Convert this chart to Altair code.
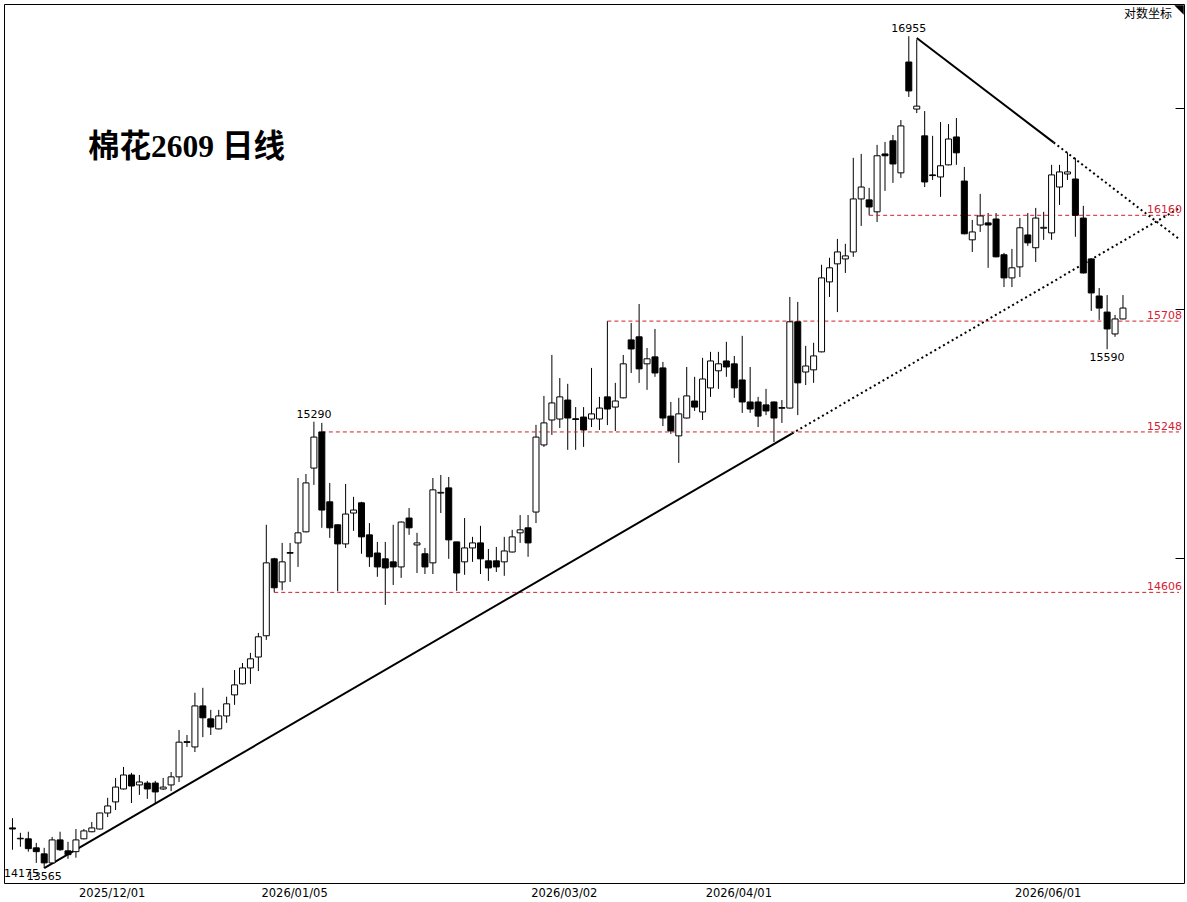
import altair as alt
import pandas as pd

# ---------------- data ----------------
opens = [13712,13672,13672,13639,13617,13584,13668,13628,13625,13672,
13698,13708,13767,13808,13856,13908,13871,13878,13878,13856,
13871,13901,14030,14013,14168,14119,14081,14130,14210,14252,
14313,14355,14437,14738,14647,14760,14801,14845,15101,15248,
14965,14873,14797,14920,14961,14833,14761,14738,14726,14706,
14900,14793,14758,14722,15000,15021,14805,14726,14781,14801,
14730,14730,14726,14765,14841,14861,14924,15195,15297,15301,
15379,15302,15309,15301,15301,15392,15350,15388,15629,15642,
15529,15558,15512,15313,15232,15305,15375,15330,15429,15500,
15541,15529,15462,15371,15371,15359,15371,15345,15346,15705,
15495,15504,15579,15874,15951,15972,16002,16231,16227,16175,
16428,16486,16345,16838,16627,16508,16336,16327,16380,16503,
16309,16054,16118,16127,16144,15990,15891,15938,16075,16020,
16104,16084,16283,16340,16318,16148,15972,15814,15746,15654,
15717]

closes = [13708,13674,13636,13625,13584,13668,13632,13614,13668,13701,
13712,13767,13793,13863,13908,13867,13882,13856,13845,13863,
13901,14031,14033,14168,14123,14088,14130,14176,14248,14313,
14348,14433,14722,14624,14726,14763,14841,15041,15227,14932,
14861,14797,14916,14932,14825,14746,14706,14702,14706,14884,
14861,14801,14706,15013,15003,14813,14682,14781,14801,14738,
14702,14706,14769,14825,14853,14801,15227,15285,15367,15392,
15305,15299,15256,15322,15346,15342,15375,15529,15591,15508,
15550,15491,15305,15252,15322,15396,15350,15466,15541,15529,
15516,15429,15371,15342,15313,15334,15305,15348,15705,15450,
15520,15562,15891,15934,16002,15985,16231,16283,16196,16420,
16420,16384,16552,16708,16640,16305,16333,16376,16494,16433,
16080,16088,16157,16118,15981,15891,15934,16106,16041,16148,
16108,16336,16349,16349,16160,15912,15827,15763,15675,15717,
15763]

highs = [13748,13694,13698,13657,13639,13679,13698,13661,13708,13708,
13734,13768,13823,13897,13938,13916,13908,13886,13886,13897,
13919,14077,14058,14218,14237,14153,14153,14203,14305,14332,
14371,14448,14873,14742,14801,14801,15061,15077,15290,15285,
15041,14875,15037,14985,14965,14880,14805,14805,14873,14886,
14940,14841,14781,15061,15073,15065,14805,14900,14825,14869,
14777,14785,14825,14853,14912,14912,15277,15396,15566,15470,
15446,15350,15350,15512,15392,15708,15450,15566,15700,15780,
15595,15675,15537,15371,15388,15516,15475,15554,15579,15579,
15621,15562,15646,15516,15392,15425,15373,15379,15810,15789,
15604,15617,15947,15977,16058,16037,16411,16428,16279,16468,
16481,16512,16578,16955,16940,16618,16508,16569,16560,16587,
16371,16140,16253,16170,16170,15998,16015,16148,16170,16192,
16175,16380,16380,16435,16411,16201,15974,15848,15818,15734,
15818]

lows = [13632,13643,13625,13584,13565,13580,13628,13599,13603,13670,
13696,13706,13752,13778,13854,13804,13834,13819,13804,13852,
13848,13882,14013,13994,14050,14058,14079,14104,14172,14250,
14252,14301,14421,14606,14614,14647,14706,14843,15033,14861,
14821,14610,14781,14849,14758,14706,14667,14557,14635,14663,
14833,14682,14678,14678,14920,14738,14612,14675,14726,14678,
14651,14686,14671,14763,14801,14746,14880,15187,15236,15264,
15175,15175,15187,15268,15256,15276,15252,15386,15491,15450,
15421,15475,15272,15240,15122,15303,15334,15297,15392,15425,
15475,15388,15326,15326,15268,15317,15207,15285,15344,15317,
15441,15450,15577,15810,15746,15912,15981,16114,16160,16131,
16266,16301,16323,16681,16609,16283,16314,16240,16378,16380,
16078,16002,16088,15934,15979,15852,15852,15895,16028,15959,
16054,16054,16205,16314,16067,15910,15751,15713,15590,15642,
15715]

bar_index = list(range(1, len(opens) + 1))

date_index = [13, 36, 70, 92, 131]
date_labels = ["2025/12/01", "2026/01/05", "2026/03/02", "2026/04/01", "2026/06/01"]

level_prices = [16160, 15708, 15248, 14606]
level_start = [109, 76, 40, 34]
level_texts = ["16160", "15708", "15248", "14606"]

up_solid_i = [5, 99.25]
up_solid_p = [13565, 15241]
up_dot_i = [99.25, 148.06]
up_dot_p = [15241, 16190]
dn_solid_i = [115, 132.25]
dn_solid_p = [16947, 16479]
dn_dot_i = [132.25, 148.06]
dn_dot_p = [16479, 16058]

peak_texts = ["16955", "15290"]
peak_index = [114, 39]
peak_prices = [16955, 15290]
trough_texts = ["15590", "13565"]
trough_index = [139, 5]
trough_prices = [15590, 13565]

right_ticks = [14740, 15760, 16630]

title_text = "棉花2609 日线"
corner_text = "对数坐标"

# ---------------- chart ----------------
X_DOMAIN = [0.5625, 148.0625]
Y_DOMAIN = [13511, 17102]
xs = alt.Scale(domain=X_DOMAIN, nice=False, zero=False)
ys = alt.Scale(type="log", domain=Y_DOMAIN, nice=False, zero=False)

df = pd.DataFrame({"i": bar_index, "open": opens, "high": highs,
                   "low": lows, "close": closes})

label_expr = "".join(f"datum.value == {p} ? '{t}' : " for p, t in zip(date_index, date_labels)) + "''"

NUM_FONT = "DejaVu Sans"

X_AXIS = alt.Axis(values=date_index, labelExpr=label_expr, ticks=False,
                  domain=False, grid=False, title=None,
                  labelFont=NUM_FONT, labelFontSize=11.5, labelColor="black",
                  labelPadding=4, labelOffset=4, labelFlush=False,
                  labelOverlap=False)
Y_AXIS = alt.Axis(orient="right", values=right_ticks, labels=False,
                  domain=False, grid=False, ticks=True, tickSize=9,
                  tickColor="black", offset=-9, title=None)


def X(field):
    return alt.X(field, scale=xs, axis=X_AXIS)


def Y(field):
    return alt.Y(field, scale=ys, axis=Y_AXIS)


wick = alt.Chart(df).mark_rule(color="black", strokeWidth=1).encode(
    x=X("i:Q"), y=Y("low:Q"), y2="high:Q",
)

body = alt.Chart(df).mark_bar(size=6, stroke="black", strokeWidth=1).encode(
    x=X("i:Q"), y=Y("open:Q"), y2="close:Q",
    fill=alt.condition("datum.close >= datum.open", alt.value("white"), alt.value("black")),
)

lv = pd.DataFrame({"start": level_start, "end": [X_DOMAIN[1]] * len(level_start),
                   "p": level_prices, "t": level_texts})
levels = alt.Chart(lv).mark_rule(color="#d0202a", strokeWidth=1, strokeDash=[4, 3]).encode(
    x=X("start:Q"), x2="end:Q", y=Y("p:Q"),
)
level_lbl = alt.Chart(lv).mark_text(align="right", baseline="alphabetic", dy=-2,
                                    font=NUM_FONT, fontSize=11, color="#d42035").encode(
    x=alt.value(1178), y=Y("p:Q"), text="t:N",
)


def seg(iv, pv):
    return pd.DataFrame({"i": iv, "p": pv})


def tline(d, dash=None):
    kw = dict(color="black", strokeWidth=2, clip=True)
    if dash:
        kw["strokeDash"] = dash
        kw["strokeCap"] = "butt"
    return alt.Chart(d).mark_line(**kw).encode(x=X("i:Q"), y=Y("p:Q"))


up_solid = tline(seg(up_solid_i, up_solid_p))
up_dot = tline(seg(up_dot_i, up_dot_p), [2, 3])
dn_solid = tline(seg(dn_solid_i, dn_solid_p))
dn_dot = tline(seg(dn_dot_i, dn_dot_p), [2, 3])

pk = pd.DataFrame({"i": peak_index, "p": peak_prices, "t": peak_texts})
peak_lbl = alt.Chart(pk).mark_text(baseline="middle", dy=-7, font=NUM_FONT,
                                   fontSize=11, color="black").encode(
    x=X("i:Q"), y=Y("p:Q"), text="t:N")

tr = pd.DataFrame({"i": trough_index, "p": trough_prices, "t": trough_texts})
trough_lbl = alt.Chart(tr).mark_text(baseline="middle", dy=9, font=NUM_FONT,
                                     fontSize=11, color="black").encode(
    x=X("i:Q"), y=Y("p:Q"), text="t:N")

left_lbl = alt.Chart(pd.DataFrame({"p": [13565], "t": ["14175"]})).mark_text(
    align="left", baseline="middle", dy=6, font=NUM_FONT, fontSize=11, color="black").encode(
    x=alt.value(0), y=Y("p:Q"), text="t:N")

title = alt.Chart(pd.DataFrame({"t": [title_text]})).mark_text(
    align="left", baseline="middle", font="Liberation Serif, Noto Sans CJK SC",
    fontSize=31.5, fontWeight="bold", color="black").encode(
    x=alt.value(84), y=alt.value(144), text="t:N")

corner = alt.Chart(pd.DataFrame({"t": [corner_text]})).mark_text(
    align="right", baseline="middle", font="Noto Sans CJK SC", fontSize=12,
    color="black").encode(x=alt.value(1168), y=alt.value(10), text="t:N")

tri = alt.Chart(pd.DataFrame({"t": [1]})).mark_point(
    shape="M -1 -1 L 1 -1 L 1 1 Z", filled=True, color="black", size=90, opacity=1).encode(
    x=alt.value(1175), y=alt.value(6))

chart = alt.layer(
    wick, levels, up_solid, up_dot, dn_solid, dn_dot, body,
    level_lbl, peak_lbl, trough_lbl, left_lbl, title, corner, tri,
).properties(
    width=1180, height=879,
    autosize=alt.AutoSizeParams(type="none"),
    padding={"left": 4, "top": 4, "right": 3, "bottom": 19},
    background="white",
).configure_view(
    stroke="black", strokeWidth=1
).configure_axis(grid=False)

chart.save("out.html", embed_options={"renderer": "svg", "actions": False})
